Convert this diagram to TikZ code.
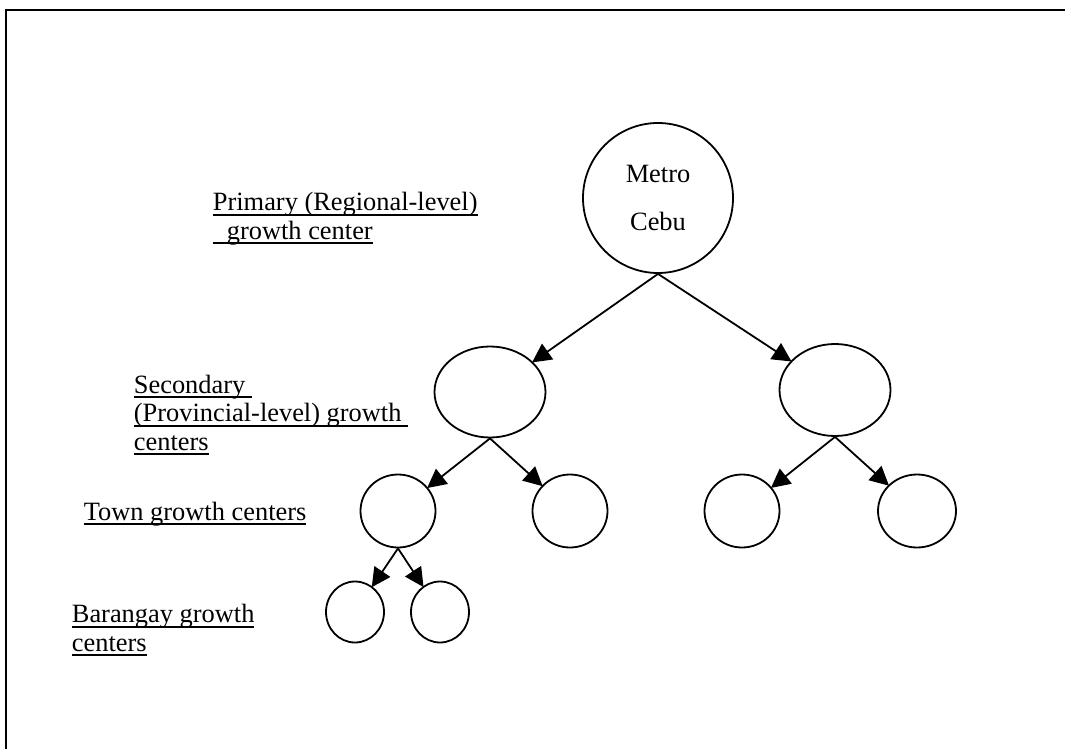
\documentclass[tikz,border=0pt]{standalone}
\usepackage{fontspec}
\setmainfont{Liberation Serif}
\usetikzlibrary{arrows.meta,shapes.geometric}
\newcommand{\uln}[1]{\setbox0\hbox{#1}\rlap{\rule[-5pt]{\wd0}{1.8pt}}\box0}

\begin{document}
\begin{tikzpicture}[x=1pt,y=-1pt,line width=1.8pt,
   font=\fontsize{26.4}{28.5}\selectfont,
   ctr/.style={draw,ellipse,inner sep=0pt},
   lvl/.style={anchor=base west,align=left,inner sep=0pt},
   link/.style={-{Triangle[length=19pt,width=19pt]},shorten >=-1pt}]
   \useasboundingbox (0,0) rectangle (1065,749);
   \draw[line width=2.4pt] (6,10) rectangle (1090,770);
   % levels
   \node[lvl] (pri) at (212,239) {\uln{Primary (Regional-level)}\\\uln{\hspace{14pt}growth center}};
   \node[lvl] (sec) at (133,450) {\uln{Secondary\ }\\\uln{(Provincial-level) growth\ }\\\uln{centers}};
   \node[lvl] (twn) at (83,520)  {\uln{Town growth centers}};
   \node[lvl] (bgy) at (71,651)  {\uln{Barangay growth}\\\uln{centers}};
   % centers
   \node[ctr,minimum width=150pt,minimum height=150pt,align=center] (cebu) at (658,198) {Metro\\[19pt]Cebu};
   \node[ctr,minimum width=111pt,minimum height=91pt] (secL) at (490,392) {};
   \node[ctr,minimum width=111pt,minimum height=92pt] (secR) at (835,390) {};
   \node[ctr,minimum width=75pt,minimum height=73pt] (twnA) at (398,511) {};
   \node[ctr,minimum width=75pt,minimum height=73pt] (twnB) at (570,511) {};
   \node[ctr,minimum width=75pt,minimum height=73pt] (twnC) at (742,511) {};
   \node[ctr,minimum width=78pt,minimum height=73pt] (twnD) at (917,511) {};
   \node[ctr,minimum width=58pt,minimum height=61pt] (bgyA) at (355,612) {};
   \node[ctr,minimum width=58pt,minimum height=61pt] (bgyB) at (440,612) {};
   % arrows
   \draw[link] (cebu.south) -- (secL);
   \draw[link] (cebu.south) -- (secR);
   \draw[link] (secL.south) -- (twnA);
   \draw[link] (secL.south) -- (twnB);
   \draw[link] (secR.south) -- (twnC);
   \draw[link] (secR.south) -- (twnD);
   \draw[link] (twnA.south) -- (bgyA);
   \draw[link] (twnA.south) -- (bgyB);
\end{tikzpicture}
\end{document}
